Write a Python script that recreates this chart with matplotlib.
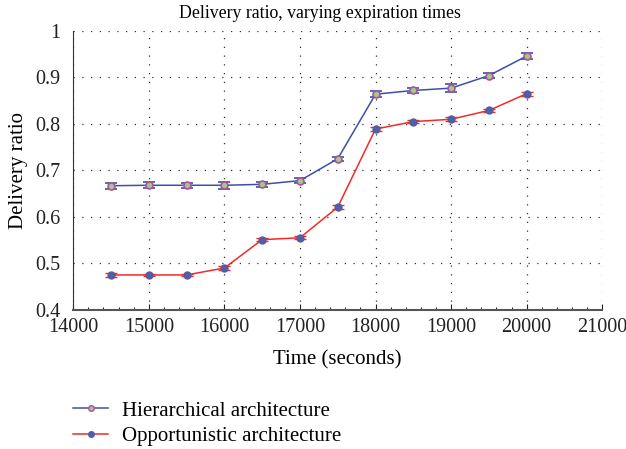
import numpy as np
import matplotlib.pyplot as plt
from matplotlib.lines import Line2D
from matplotlib.ticker import AutoMinorLocator

plt.rcParams['font.family'] = ['Liberation Serif', 'DejaVu Serif']

time = [14500, 15000, 15500, 16000, 16500, 17000, 17500, 18000, 18500, 19000, 19500, 20000]
hier = [0.667, 0.668, 0.668, 0.668, 0.670, 0.678, 0.725, 0.864, 0.872, 0.877, 0.904, 0.946]
hier_err = [0.006, 0.006, 0.005, 0.007, 0.005, 0.005, 0.004, 0.007, 0.006, 0.008, 0.006, 0.007]
opp = [0.475, 0.475, 0.475, 0.490, 0.551, 0.555, 0.621, 0.789, 0.805, 0.810, 0.829, 0.865]
opp_err = [0.004, 0.003, 0.003, 0.004, 0.003, 0.003, 0.004, 0.005, 0.004, 0.004, 0.004, 0.004]

blue = '#3d4fa8'
red = '#f22a2a'

fig = plt.figure(figsize=(6.26, 4.49), dpi=100)
ax = fig.add_axes([0.117, 0.31, 0.845, 0.621])

ax.errorbar(time, hier, yerr=hier_err, color=blue, lw=1.1, ecolor=blue,
            elinewidth=1.2, capsize=4, capthick=1.4, marker='o', ms=5,
            mfc='#9ccc88', mec='#b04fa0', mew=1.2, zorder=3)
ax.errorbar(time, opp, yerr=opp_err, color=red, lw=1.1, ecolor=red,
            elinewidth=1.2, capsize=4, capthick=1.4, marker='o', ms=5,
            mfc='#4f5fa8', mec='#5a5a9a', mew=1.0, zorder=3)

ax.set_xlim(14000, 21000)
ax.set_ylim(0.4, 1.0)
ax.set_xticks(np.arange(14000, 21001, 1000))
ax.set_yticks([0.4, 0.5, 0.6, 0.7, 0.8, 0.9, 1.0])
ax.set_yticklabels(['0.4', '0.5', '0.6', '0.7', '0.8', '0.9', '1'])
ax.xaxis.set_minor_locator(AutoMinorLocator(5))
ax.grid(True, linestyle=(0, (1, 6)), color='#333333', lw=0.9)
ax.spines['top'].set_visible(False)
ax.spines['right'].set_visible(False)
ax.spines['left'].set_color('#333333')
ax.spines['bottom'].set_color('#555555')
ax.spines['bottom'].set_linewidth(1.5)
ax.tick_params(direction='in', labelsize=14.5, length=4, colors='#222222')
ax.tick_params(axis='x', pad=6)
ax.tick_params(which='minor', direction='in', length=2)
ax.tick_params(axis='y', length=0, pad=9)

fig.text(320 / 626, 1 - 13 / 449, 'Delivery ratio, varying expiration times',
         fontsize=12.8, ha='center', va='center')
ax.set_xlabel('Time (seconds)', fontsize=15)
ax.xaxis.set_label_coords(0.5, -0.145)
ax.set_ylabel('Delivery ratio', fontsize=15)
ax.yaxis.set_label_coords(-0.085, 0.5)

handles = [
    Line2D([], [], color=blue, lw=1.1, marker='o', ms=4, mfc='#9ccc88', mec='#b04fa0'),
    Line2D([], [], color=red, lw=1.1, marker='o', ms=4, mfc='#4f5fa8', mec='#4f5fa8'),
]
fig.legend(handles, ['Hierarchical architecture', 'Opportunistic architecture'],
           loc='upper left', bbox_to_anchor=(73 / 626, 0.107), frameon=False,
           borderpad=0, borderaxespad=0, fontsize=15, handlelength=1.7,
           handletextpad=0.67, labelspacing=0.3)

fig.savefig('out.png', dpi=100)
